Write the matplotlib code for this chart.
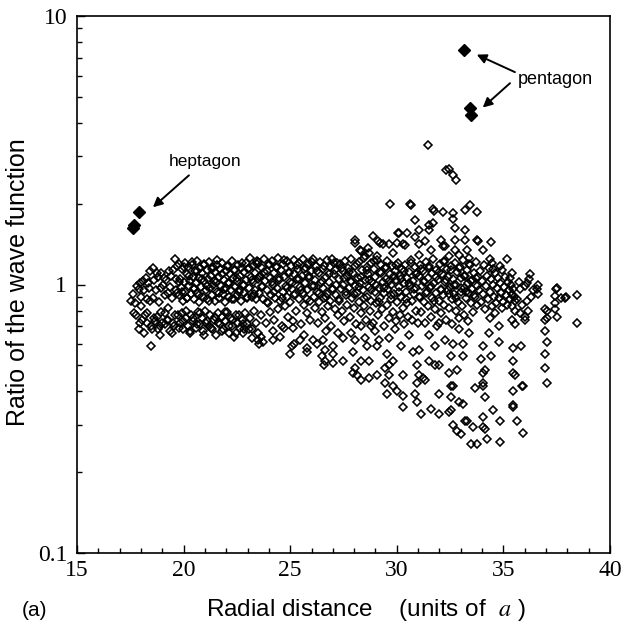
import matplotlib
matplotlib.use("Agg")
import matplotlib.pyplot as plt
from matplotlib.ticker import FixedLocator, NullFormatter, MultipleLocator, FixedFormatter

plt.rcParams['mathtext.fontset'] = 'stix'

# ---------------- data ----------------
hept_x = [17.64, 17.66, 17.91]
hept_y = [1.62, 1.67, 1.86]
pent_x = [33.15, 33.43, 33.48]
pent_y = [7.45, 4.55, 4.28]

s1_x = [17.55, 17.61, 17.68, 17.72, 17.78, 17.82, 17.89, 17.92, 17.96, 18.01,
        18.06, 18.10, 18.15, 18.19, 18.23, 18.26, 18.30, 18.34, 18.39, 18.43,
        18.47, 18.51, 18.55, 18.58, 18.62, 18.66, 18.70, 18.73, 18.77, 18.81,
        18.85, 18.89, 18.92, 18.96, 19.00, 19.04, 19.07, 19.11, 19.15, 19.19,
        19.22, 19.26, 19.30, 19.34, 19.37, 19.41, 19.45, 19.49, 19.52, 19.56,
        19.60, 19.64, 19.67, 19.71, 19.73, 17.98, 18.42, 18.87, 19.28, 19.66]
s1_y = [0.87, 0.92, 0.78, 0.85, 0.77, 0.99, 0.96, 0.68, 1.01, 0.90,
        0.74, 1.03, 0.95, 0.77, 1.06, 0.72, 0.88, 1.01, 0.97, 0.87,
        0.59, 0.68, 0.89, 1.15, 1.04, 0.73, 0.95, 1.10, 0.76, 1.07,
        0.86, 0.70, 0.97, 1.10, 0.72, 1.00, 1.06, 0.91, 0.78, 1.04,
        0.74, 0.93, 1.12, 0.67, 0.98, 1.08, 0.89, 0.72, 1.13, 0.70,
        1.24, 0.95, 1.17, 0.93, 0.77, 0.83, 1.12, 0.65, 0.82, 1.05]

s2_x = [19.77, 19.80, 19.83, 19.85, 19.88, 19.91, 19.94, 19.97, 19.99, 20.02,
        20.05, 20.08, 20.11, 20.14, 20.16, 20.19, 20.22, 20.25, 20.28, 20.30,
        20.33, 20.36, 20.39, 20.42, 20.44, 20.47, 20.50, 20.53, 20.56, 20.58,
        20.61, 20.64, 20.67, 20.70, 20.72, 20.75, 20.78, 20.81, 20.84, 20.86,
        20.89, 20.92, 20.95, 20.98, 21.00, 21.03, 21.06, 21.09, 21.12, 21.14,
        21.17, 21.20, 21.23, 21.26, 21.28, 21.31, 21.34, 21.37, 21.40, 21.42,
        21.45, 21.48, 21.51, 21.54, 21.56, 21.59, 21.62, 21.65, 21.68, 21.70,
        21.73, 21.76, 21.79, 21.82, 21.84, 21.87, 21.90, 21.93, 21.96, 21.98,
        22.01, 22.04, 22.07, 22.10, 22.12, 22.15, 22.18, 22.21, 22.24, 22.26,
        22.29, 22.32, 22.35, 22.38, 22.40, 22.43, 22.46, 22.49, 22.52, 22.54,
        22.57, 22.60, 22.63, 22.66, 22.68, 22.71, 22.74, 22.77, 22.80, 22.82,
        22.85, 22.88, 22.91, 22.94, 22.96, 22.99, 23.02, 23.05, 23.08, 23.10,
        23.13, 23.16, 23.19, 23.22, 23.24, 23.27, 23.30, 23.33, 23.36, 23.38,
        23.41, 23.44, 23.47, 23.50]
s2_y = [1.19, 0.91, 0.72, 1.05, 0.98, 0.78, 1.14, 0.87, 0.68, 1.02,
        1.20, 0.94, 0.75, 1.09, 0.89, 0.70, 1.16, 0.99, 0.66, 1.03,
        0.92, 0.77, 1.18, 1.07, 0.73, 0.96, 0.88, 1.12, 0.69, 1.01,
        1.22, 0.93, 0.79, 1.06, 0.86, 0.71, 1.15, 0.98, 0.75, 1.10,
        0.90, 0.67, 1.19, 1.03, 0.80, 0.95, 0.72, 1.13, 0.88, 1.05,
        0.70, 1.21, 0.97, 0.77, 1.08, 0.91, 0.68, 1.16, 1.00, 0.74,
        1.11, 0.87, 0.65, 1.02, 1.18, 0.94, 0.78, 1.07, 0.89, 0.71,
        1.14, 0.99, 0.76, 1.20, 0.92, 0.68, 1.04, 0.86, 0.73, 1.12,
        0.97, 0.79, 1.17, 1.01, 0.66, 0.90, 1.09, 0.75, 0.95, 1.22,
        0.70, 1.06, 0.88, 0.64, 1.13, 0.98, 0.77, 1.03, 0.91, 0.72,
        1.18, 0.94, 0.69, 1.08, 0.87, 1.15, 0.74, 1.00, 0.66, 1.11,
        0.93, 0.78, 1.20, 1.04, 0.71, 0.89, 1.14, 0.68, 0.97, 1.26,
        0.75, 1.07, 0.90, 0.63, 1.17, 1.02, 0.80, 0.95, 1.10, 0.72,
        0.88, 1.19, 0.66, 1.05]

s3_x = [23.51, 23.55, 23.59, 23.62, 23.66, 23.70, 23.73, 23.77, 23.81, 23.85,
        23.89, 23.92, 23.96, 24.00, 24.04, 24.07, 24.11, 24.15, 24.19, 24.22,
        24.26, 24.30, 24.34, 24.37, 24.41, 24.45, 24.49, 24.53, 24.56, 24.60,
        24.64, 24.68, 24.71, 24.75, 24.79, 24.83, 24.86, 24.90, 24.94, 24.98,
        25.01, 25.05, 25.09, 25.13, 25.16, 25.20, 25.24, 25.28, 25.32, 25.35,
        25.39, 25.43, 25.47, 25.50, 25.54, 25.58, 25.62, 25.65, 25.69, 25.73,
        25.77, 25.80, 25.84, 25.88, 25.92, 25.95, 25.99, 26.03, 26.07, 26.10,
        26.14, 26.18, 26.22, 26.26, 26.29, 26.33, 26.37, 26.41, 26.44, 26.48,
        26.52, 26.56, 26.59, 26.63, 26.67, 26.71, 26.74, 26.78, 26.82, 26.86,
        26.89, 26.93, 26.97, 27.01, 27.04, 27.08, 27.12, 27.16, 27.19, 27.23,
        22.85, 23.23, 23.49, 23.56, 23.65, 23.72, 24.17, 24.19, 24.53, 24.73,
        25.01, 25.09, 25.13, 25.20, 25.48, 25.67, 25.79, 25.81, 26.05, 26.24,
        26.47, 26.52, 26.57, 26.61, 26.63, 26.66, 26.99, 27.01, 27.03, 27.25]
s3_y = [1.21, 0.93, 1.08, 0.77, 1.15, 0.99, 0.88, 1.24, 1.03, 0.72,
        1.12, 0.95, 0.85, 1.18, 1.06, 0.79, 0.91, 1.22, 1.00, 0.74,
        1.10, 0.89, 1.16, 0.97, 0.81, 1.26, 1.04, 0.87, 1.13, 0.70,
        0.94, 1.19, 1.07, 0.83, 0.99, 1.22, 0.90, 0.76, 1.11, 1.02,
        0.86, 1.17, 0.96, 0.73, 1.09, 1.23, 0.92, 0.80, 1.05, 1.14,
        0.88, 1.20, 0.98, 0.71, 1.08, 0.93, 1.24, 0.84, 1.01, 1.15,
        0.78, 0.95, 1.19, 1.06, 0.87, 0.74, 1.12, 0.99, 1.24, 0.90,
        0.82, 1.04, 1.17, 0.94, 0.72, 1.10, 0.86, 1.21, 1.01, 0.79,
        0.97, 1.14, 0.89, 0.75, 1.07, 1.23, 0.92, 0.83, 1.02, 1.16,
        0.87, 0.70, 1.24, 0.96, 1.09, 0.81, 1.13, 0.91, 1.20, 0.77,
        0.68, 0.68, 0.62, 0.60, 0.64, 0.61, 0.62, 0.67, 0.64, 0.69,
        0.55, 0.59, 0.69, 0.60, 0.62, 0.65, 0.56, 0.58, 0.62, 0.60,
        0.54, 0.62, 0.50, 0.57, 0.52, 0.67, 0.59, 0.55, 0.51, 0.66]

s4_x = [27.27, 27.31, 27.35, 27.38, 27.42, 27.46, 27.50, 27.53, 27.57, 27.61,
        27.65, 27.68, 27.72, 27.76, 27.80, 27.83, 27.87, 27.91, 27.95, 27.98,
        28.02, 28.06, 28.10, 28.14, 28.17, 28.21, 28.25, 28.29, 28.32, 28.36,
        28.40, 28.44, 28.47, 28.51, 28.55, 28.59, 28.62, 28.66, 28.70, 28.74,
        28.77, 28.81, 28.85, 28.89, 28.92, 28.96, 29.00, 29.04, 29.08, 29.11,
        29.15, 29.19, 29.23, 29.26, 29.30, 29.34, 29.38, 29.41, 29.45, 29.49,
        29.53, 29.56, 29.60, 29.64, 29.68, 29.71, 29.75, 29.79, 29.83, 29.86,
        29.90, 29.94, 29.98, 30.02, 30.05, 30.09, 30.13, 30.17, 30.20, 30.24,
        30.28, 30.32, 30.35, 30.39, 30.43, 30.47, 30.50, 30.54, 30.58, 30.62,
        30.65, 30.69, 30.73, 30.77, 30.80, 30.84, 30.88, 30.92, 30.95, 30.99]
s4_y = [1.05, 0.88, 1.19, 0.96, 0.80, 1.12, 1.00, 0.73, 1.22, 0.91,
        1.08, 0.84, 1.15, 0.97, 0.76, 1.03, 1.24, 0.89, 1.10, 0.82,
        0.99, 1.17, 0.71, 0.93, 1.06, 1.21, 0.86, 1.01, 0.78, 1.13,
        0.95, 1.25, 0.83, 1.04, 0.74, 1.16, 0.90, 1.09, 0.98, 0.80,
        1.20, 0.87, 1.02, 0.72, 1.14, 0.94, 1.07, 0.85, 1.23, 0.77,
        0.97, 1.11, 0.89, 1.18, 0.81, 1.02, 0.70, 0.93, 1.15, 1.05,
        0.84, 1.22, 0.96, 0.75, 1.09, 0.88, 1.00, 1.17, 0.79, 0.92,
        1.12, 0.73, 1.04, 0.86, 1.20, 0.98, 0.77, 1.08, 0.90, 1.14,
        0.82, 1.01, 0.71, 1.18, 0.94, 1.06, 0.85, 0.76, 1.11, 0.99,
        1.23, 0.87, 0.74, 1.03, 0.92, 1.16, 0.80, 0.97, 1.10, 0.72]

s5_x = [31.03, 31.07, 31.11, 31.14, 31.18, 31.22, 31.26, 31.29, 31.33, 31.37,
        31.41, 31.44, 31.48, 31.52, 31.56, 31.59, 31.63, 31.67, 31.71, 31.74,
        31.78, 31.82, 31.86, 31.90, 31.93, 31.97, 32.01, 32.05, 32.08, 32.12,
        32.16, 32.20, 32.23, 32.27, 32.31, 32.35, 32.38, 32.42, 32.46, 32.50,
        32.53, 32.57, 32.61, 32.65, 32.68, 32.72, 32.76, 32.80, 32.83, 32.87,
        32.91, 32.95, 32.99, 33.02, 33.06, 33.10, 33.14, 33.17, 33.21, 33.25,
        33.29, 33.32, 33.36, 33.40, 33.44, 33.47, 33.51, 33.55, 33.59, 33.62,
        33.66, 33.70, 33.74, 33.77, 33.81]
s5_y = [1.08, 0.90, 1.18, 0.79, 0.99, 1.12, 0.86, 1.03, 0.72, 1.21,
        0.94, 1.06, 0.83, 1.15, 0.97, 0.76, 1.10, 0.89, 1.24, 1.01,
        0.81, 0.93, 1.13, 0.70, 1.04, 0.87, 1.19, 0.96, 0.78, 1.09,
        0.91, 1.22, 0.84, 1.02, 0.74, 1.14, 0.95, 1.07, 0.82, 0.98,
        1.17, 0.88, 0.71, 1.05, 0.92, 1.20, 0.80, 1.00, 1.11, 0.86,
        0.75, 1.16, 0.94, 1.06, 0.83, 1.23, 0.97, 0.77, 1.08, 0.89,
        1.13, 1.01, 0.73, 0.93, 1.18, 0.85, 1.04, 0.96, 0.79, 1.10,
        0.90, 1.21, 0.99, 0.84, 1.07]

s6_x = [33.85, 33.90, 33.94, 33.99, 34.04, 34.09, 34.13, 34.18, 34.23, 34.27,
        34.32, 34.37, 34.41, 34.46, 34.51, 34.55, 34.60, 34.65, 34.70, 34.74,
        34.79, 34.84, 34.88, 34.93, 34.98, 35.03, 35.07, 35.12, 35.17, 35.21,
        35.26, 35.31, 35.35, 35.40, 35.45, 35.49, 35.54]
s6_y = [0.95, 1.12, 0.86, 1.03, 0.92, 1.18, 0.81, 0.99, 1.08, 0.88,
        1.15, 0.94, 1.05, 0.83, 1.00, 0.90, 1.10, 0.85, 0.97, 1.06,
        0.89, 1.01, 0.93, 1.13, 0.86, 0.98, 1.07, 0.91, 0.84, 1.02,
        0.95, 0.88, 1.00, 0.83, 0.96, 0.90, 0.87]

band_x = [19.80, 19.92, 20.03, 20.15, 20.27, 20.39, 20.50, 20.62, 20.74, 20.85,
          20.97, 21.09, 21.20, 21.32, 21.44, 21.56, 21.67, 21.79, 21.91, 22.02,
          22.14, 22.26, 22.37, 22.49, 22.61, 22.73, 22.84, 22.96, 23.08, 23.19,
          23.31, 23.43, 23.54, 23.66, 23.78, 23.90, 24.01, 24.13, 24.25, 24.36,
          24.48, 24.60, 24.71, 24.83, 24.95, 25.07, 25.18, 25.30, 25.42, 25.53,
          25.65, 25.77, 25.88, 26.00, 26.12, 26.24, 26.35, 26.47, 26.59, 26.70,
          26.82, 26.94, 27.05, 27.17, 27.29, 27.41, 27.52, 27.64, 27.76, 27.87,
          27.99, 28.11, 28.22, 28.34, 28.46, 28.58, 28.69, 28.81, 28.93, 29.04,
          29.16, 29.28, 29.39, 29.51, 29.63, 29.75, 29.86, 29.98, 30.10, 30.21,
          30.33, 30.45, 30.56, 30.68, 30.80, 30.92, 31.03, 31.15, 31.27, 31.38,
          31.50, 31.62, 31.73, 31.85, 31.97, 32.09, 32.20, 32.32, 32.44, 32.55,
          32.67, 32.79, 32.90, 33.02, 33.14, 33.26, 33.37, 33.49, 33.61, 33.72]
band_y = [1.02, 0.94, 1.16, 0.89, 1.08, 1.21, 0.97, 1.12, 0.91, 1.05,
          1.18, 0.99, 0.87, 1.14, 1.03, 1.23, 0.93, 1.09, 0.96, 1.17,
          1.01, 0.88, 1.13, 1.06, 0.95, 1.20, 1.00, 0.90, 1.15, 1.04,
          0.92, 1.22, 1.07, 0.98, 1.11, 0.86, 1.19, 1.02, 0.94, 1.16,
          1.06, 0.89, 1.23, 0.97, 1.10, 1.01, 0.91, 1.18, 1.05, 0.95,
          1.14, 0.88, 1.08, 1.21, 0.99, 1.12, 0.93, 1.03, 1.17, 0.90,
          1.09, 0.96, 1.20, 1.00, 0.87, 1.15, 1.06, 0.94, 1.11, 1.02,
          0.92, 1.19, 0.98, 1.07, 0.89, 1.13, 1.04, 0.95, 1.22, 1.00,
          0.86, 1.10, 0.97, 1.16, 1.03, 0.91, 1.08, 1.18, 0.94, 1.05,
          1.12, 0.88, 1.01, 1.20, 0.96, 1.09, 0.90, 1.14, 1.02, 0.93,
          1.17, 0.99, 0.87, 1.07, 1.11, 0.95, 1.21, 1.04, 0.92, 1.13,
          1.00, 0.89, 1.15, 0.97, 1.08, 0.94, 1.19, 1.03, 0.91, 1.06]

lowband_x = [17.95, 18.12, 18.28, 18.45, 18.62, 18.78, 18.95, 19.12, 19.28, 19.45,
             19.62, 19.78, 19.95, 20.12, 20.28, 20.45, 20.62, 20.78, 20.95, 21.12,
             21.28, 21.45, 21.62, 21.78, 21.95, 22.12, 22.28, 22.45, 22.62, 22.78]
lowband_y = [0.72, 0.66, 0.78, 0.70, 0.75, 0.68, 0.79, 0.71, 0.74, 0.66,
             0.77, 0.69, 0.73, 0.80, 0.67, 0.75, 0.71, 0.78, 0.65, 0.73,
             0.69, 0.76, 0.72, 0.67, 0.79, 0.70, 0.74, 0.66, 0.77, 0.71]

high_x = [28.02, 28.06, 28.28, 28.32, 28.66, 28.70, 28.87, 29.22, 29.34, 29.62,
          30.00, 30.06, 30.11, 30.28, 30.47, 29.70, 30.63, 30.67, 30.84, 28.49,
          29.06, 29.81, 30.37, 29.11, 31.03, 31.50, 31.69, 31.69, 31.74, 32.16,
          32.63, 33.19, 33.44, 33.76, 32.63, 32.72, 33.19, 32.06, 32.25, 32.72,
          33.19, 33.76, 31.03, 31.59, 31.03, 32.44, 32.91, 33.38, 31.50, 31.45,
          32.31, 32.47, 32.63, 32.78, 32.16, 32.72, 33.29, 34.04, 34.41, 33.80,
          34.38, 35.17, 34.84, 35.31, 35.40, 36.25, 34.51, 34.46, 30.84, 31.31]
high_y = [1.46, 1.43, 1.35, 1.33, 1.37, 1.31, 1.52, 1.43, 1.42, 1.41,
          1.43, 1.56, 1.55, 1.41, 1.55, 2.00, 1.99, 1.97, 1.74, 1.28,
          1.28, 1.31, 1.40, 1.45, 1.59, 1.59, 1.70, 1.91, 1.88, 1.86,
          1.84, 1.89, 1.97, 1.86, 1.75, 1.63, 1.60, 1.46, 1.39, 1.46,
          1.47, 1.46, 1.41, 1.34, 1.29, 1.28, 1.29, 1.26, 1.66, 3.30,
          2.66, 2.70, 2.55, 2.45, 1.39, 1.35, 1.35, 1.34, 1.44, 1.45,
          1.24, 1.24, 1.17, 1.06, 1.10, 1.09, 1.14, 1.20, 1.50, 1.45]

right_x = [36.01, 36.11, 36.62, 36.58, 36.62, 36.39, 35.78, 36.11, 35.87, 35.78,
           36.01, 36.15, 36.01, 35.54, 35.41, 34.93, 35.54, 34.60, 35.41, 34.38,
           36.95, 37.05, 37.05, 36.95, 36.95, 37.05, 36.95, 36.95, 37.05, 37.47,
           37.42, 37.42, 37.42, 37.52, 37.52, 37.70, 36.20, 35.73, 35.64, 36.29,
           37.89, 37.92, 38.45, 38.45]
right_y = [0.99, 1.01, 1.00, 0.96, 0.92, 0.95, 0.96, 0.87, 0.84, 0.78,
           0.76, 0.80, 0.74, 0.71, 0.92, 0.82, 0.80, 0.78, 0.74, 0.75,
           0.81, 0.80, 0.75, 0.74, 0.67, 0.61, 0.55, 0.49, 0.43, 0.96,
           0.905, 0.85, 0.81, 0.76, 0.97, 0.89, 1.05, 1.02, 0.88, 0.90,
           0.89, 0.90, 0.91, 0.72]

low_x = [27.46, 28.02, 28.49, 28.96, 28.30, 29.62, 30.18, 27.93, 28.59, 29.06,
         29.53, 28.30, 28.68, 28.02, 27.93, 28.12, 28.30, 28.68, 29.06, 29.43,
         29.81, 29.62, 29.43, 29.81, 29.53, 30.00, 30.28, 30.28, 27.46, 29.62,
         30.75, 30.94, 31.03, 30.84, 30.94, 30.28, 30.94, 27.83, 28.77, 29.90,
         31.03, 31.78, 32.63, 33.10, 31.50, 31.97, 32.53, 33.10, 32.44, 32.82,
         31.22, 32.63, 32.53, 32.91, 32.44, 33.66, 31.97, 31.59, 31.97, 31.12,
         31.31, 33.19, 33.57, 32.82, 32.63, 33.00, 33.29, 33.47, 33.76, 32.53,
         33.10, 31.78, 32.53, 32.91, 31.97, 31.50, 33.38, 32.25, 34.04, 34.79,
         33.94, 34.41, 34.13, 35.45, 35.82, 35.45, 35.54, 35.45, 35.92, 35.45,
         35.64, 35.92, 34.04, 34.13, 34.51, 34.04, 34.04, 34.84, 34.13, 34.23,
         34.84, 34.04, 34.04, 35.45, 35.87, 35.45, 34.79, 34.32, 30.56, 29.15]
low_y = [0.63, 0.62, 0.63, 0.67, 0.70, 0.63, 0.59, 0.56, 0.59, 0.59,
         0.55, 0.52, 0.52, 0.49, 0.47, 0.46, 0.44, 0.45, 0.46, 0.49,
         0.52, 0.46, 0.43, 0.42, 0.39, 0.40, 0.385, 0.46, 0.52, 0.50,
         0.56, 0.50, 0.46, 0.39, 0.365, 0.35, 0.43, 0.66, 0.70, 0.68,
         0.57, 0.59, 0.60, 0.60, 0.52, 0.50, 0.54, 0.54, 0.47, 0.48,
         0.45, 0.42, 0.38, 0.365, 0.335, 0.41, 0.39, 0.345, 0.33, 0.33,
         0.44, 0.31, 0.295, 0.285, 0.30, 0.277, 0.31, 0.255, 0.255, 0.34,
         0.36, 0.50, 0.42, 0.68, 0.72, 0.65, 0.66, 0.62, 0.59, 0.61,
         0.53, 0.54, 0.48, 0.58, 0.59, 0.52, 0.46, 0.40, 0.42, 0.35,
         0.31, 0.28, 0.42, 0.38, 0.34, 0.32, 0.295, 0.31, 0.29, 0.265,
         0.26, 0.43, 0.47, 0.47, 0.42, 0.355, 0.70, 0.66, 0.65, 0.62]

x_ticks = [15, 20, 25, 30, 35, 40]
y_ticks = [0.1, 1, 10]
y_tick_labels = ["0.1", "1", "10"]

# ---------------- figure ----------------
W, H = 621, 622
fig = plt.figure(figsize=(W / 100, H / 100), dpi=100)
ax = fig.add_axes([77 / W, 1 - 553 / H, 533 / W, 537 / H])
ax.set_yscale('log')
ax.set_xlim(15, 40)
ax.set_ylim(0.1, 10)

open_style = dict(linestyle='none', marker='D', markersize=4.5,
                  markerfacecolor='none', markeredgecolor='black',
                  markeredgewidth=1.15)
for xs, ys in [(s1_x, s1_y), (s2_x, s2_y), (s3_x, s3_y), (s4_x, s4_y),
               (s5_x, s5_y), (s6_x, s6_y), (band_x, band_y),
               (lowband_x, lowband_y), (high_x, high_y),
               (right_x, right_y), (low_x, low_y)]:
    ax.plot(xs, ys, **open_style)

filled_style = dict(linestyle='none', marker='D', markersize=6.4,
                    color='black')
ax.plot(hept_x, hept_y, **filled_style)
ax.plot(pent_x, pent_y, **filled_style)

# ticks
ax.xaxis.set_major_locator(FixedLocator(x_ticks))
ax.xaxis.set_minor_locator(MultipleLocator(1))
ax.yaxis.set_major_locator(FixedLocator(y_ticks))
ax.yaxis.set_major_formatter(FixedFormatter(y_tick_labels))
ax.yaxis.set_minor_locator(FixedLocator([m * d for d in (0.1, 1) for m in range(2, 10)]))
ax.yaxis.set_minor_formatter(NullFormatter())
ax.tick_params(which='both', direction='in', top=False, right=False, width=1.0)
ax.tick_params(which='major', length=6, pad=5)
ax.tick_params(which='minor', length=3.5)
for lab in ax.get_xticklabels() + ax.get_yticklabels():
    lab.set_fontfamily('Liberation Serif')
    lab.set_fontsize(17)
ax.tick_params(axis='y', pad=7)
for sp in ax.spines.values():
    sp.set_linewidth(1.2)

# labels
sans = 'Liberation Sans'
fig.text(18 / W, 1 - 282 / H, "Ratio of the wave function", rotation=90,
         ha='center', va='center', fontsize=18, family=sans)
fig.text(206 / W, 1 - 610 / H, r"Radial distance    (units of  $a$ )",
         ha='left', va='center', fontsize=17.5, family=sans)
fig.text(22 / W, 1 - 610 / H, "(a)", ha='left', va='center', fontsize=15,
         family=sans)

# annotations
arrow = dict(arrowstyle='-|>', color='black', lw=1.4, mutation_scale=14,
             shrinkA=0, shrinkB=0)
ax.text(21.0, 2.86, "heptagon", ha='center', va='center', fontsize=12.5,
        family=sans)
ax.annotate("", xy=(18.56, 1.94), xytext=(20.25, 2.55), arrowprops=arrow)
ax.text(35.68, 5.8, "pentagon", ha='left', va='center', fontsize=13,
        family=sans)
ax.annotate("", xy=(33.75, 7.18), xytext=(35.54, 6.18), arrowprops=arrow)
ax.annotate("", xy=(34.03, 4.56), xytext=(35.31, 5.62), arrowprops=arrow)

fig.savefig("out.png", dpi=100)
